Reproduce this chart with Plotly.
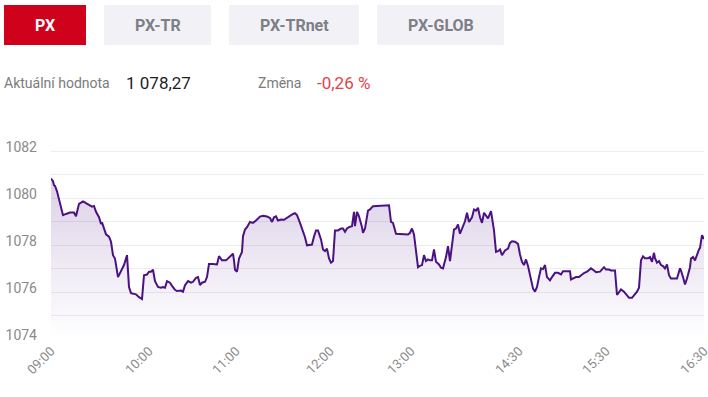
import plotly.graph_objects as go

# ---- data ----
# observation slot (session index) and PX index value
slot = [0, 2, 3, 4, 6, 9, 11, 12, 15, 19, 23, 25, 28, 30, 32, 35, 39, 41, 43, 45,
        48, 50, 51, 53, 55, 58, 60, 62, 64, 67, 70, 73, 76, 78, 80, 83, 85, 88, 91, 93,
        96, 98, 100, 102, 104, 107, 110, 112, 114, 116, 119, 121, 124, 126, 129, 130, 132, 134, 137, 140,
        142, 145, 147, 149, 151, 154, 156, 158, 162, 166, 168, 171, 175, 178, 182, 183, 184, 186, 188, 191,
        192, 194, 196, 199, 202, 205, 209, 212, 216, 219, 221, 223, 225, 227, 230, 233, 236, 238, 242, 244,
        246, 249, 252, 254, 256, 259, 261, 263, 265, 267, 270, 272, 274, 276, 278, 280, 282, 284, 287, 290,
        292, 294, 296, 298, 301, 303, 304, 306, 308, 311, 312, 314, 317, 319, 322, 326, 336, 338, 340, 342,
        345, 349, 354, 357, 359, 361, 363, 367, 369, 371, 373, 375, 377, 379, 381, 383, 385, 388, 390, 392,
        395, 397, 399, 401, 403, 405, 407, 409, 411, 414, 416, 418, 421, 423, 425, 427, 429, 431, 433, 435,
        437, 440, 441, 443, 445, 447, 449, 451, 454, 457, 459, 461, 464, 467, 469, 471, 473, 475, 477, 480,
        482, 484, 486, 488, 490, 492, 494, 496, 499, 501, 504, 507, 510, 512, 515, 519, 520, 523, 525, 528,
        530, 533, 536, 539, 540, 543, 545, 549, 551, 553, 555, 558, 560, 564, 566, 568, 570, 573, 576, 578,
        581, 584, 586, 588, 590, 592, 594, 597, 599, 601, 603, 604, 606, 608, 610, 612, 614, 616, 618, 620,
        624, 626, 629, 630, 632, 634, 636, 639, 640, 642, 644, 646, 648, 649, 651, 653]
value = [1080.83, 1080.72, 1080.55, 1080.52, 1080.29, 1079.80, 1079.38, 1079.28, 1079.33, 1079.39,
         1079.39, 1079.23, 1079.76, 1079.80, 1079.86, 1079.79, 1079.70, 1079.64, 1079.67, 1079.42,
         1079.19, 1078.91, 1078.97, 1078.71, 1078.46, 1078.37, 1078.15, 1077.58, 1077.44, 1076.65,
         1076.88, 1077.16, 1077.58, 1076.23, 1075.97, 1075.94, 1075.92, 1075.80, 1075.72, 1076.73,
         1076.76, 1076.88, 1076.88, 1076.96, 1076.48, 1076.23, 1076.20, 1076.23, 1076.20, 1076.48,
         1076.41, 1076.28, 1076.11, 1076.06, 1076.06, 1076.08, 1076.03, 1076.31, 1076.48, 1076.41,
         1076.45, 1076.62, 1076.65, 1076.31, 1076.41, 1076.45, 1076.65, 1077.21, 1077.21, 1077.19,
         1077.54, 1077.36, 1077.36, 1077.50, 1077.64, 1077.36, 1076.96, 1076.88, 1077.44, 1077.72,
         1078.39, 1078.67, 1078.77, 1078.99, 1078.95, 1079.05, 1079.22, 1079.25, 1079.22, 1079.16,
         1078.99, 1079.19, 1079.23, 1079.05, 1079.09, 1079.08, 1079.16, 1079.25, 1079.33, 1079.36,
         1079.28, 1078.95, 1078.60, 1078.34, 1078.00, 1078.00, 1078.03, 1078.37, 1078.63, 1078.63,
         1078.25, 1077.82, 1077.75, 1077.86, 1077.44, 1077.26, 1077.33, 1078.63, 1078.63, 1078.71,
         1078.71, 1078.57, 1078.71, 1078.77, 1078.81, 1079.42, 1078.81, 1079.42, 1079.23, 1078.77,
         1078.53, 1078.71, 1079.47, 1079.52, 1079.66, 1079.67, 1079.67, 1079.70, 1078.99, 1078.95,
         1078.49, 1078.49, 1078.46, 1078.46, 1078.53, 1078.71, 1078.46, 1077.07, 1077.13, 1077.16,
         1077.58, 1077.33, 1077.40, 1077.36, 1077.36, 1077.82, 1077.30, 1077.19, 1077.05, 1077.02,
         1077.50, 1077.96, 1077.33, 1078.15, 1078.67, 1078.71, 1078.88, 1078.49, 1078.71, 1079.02,
         1079.38, 1078.99, 1079.19, 1079.52, 1079.47, 1079.59, 1079.19, 1078.95, 1079.38, 1079.28,
         1079.14, 1079.45, 1079.14, 1078.63, 1077.72, 1077.75, 1077.82, 1077.58, 1077.78, 1077.86,
         1078.10, 1078.17, 1078.15, 1078.06, 1077.61, 1077.30, 1077.16, 1077.40, 1077.12, 1076.51,
         1076.17, 1076.03, 1076.23, 1076.65, 1077.02, 1076.99, 1077.16, 1076.65, 1076.51, 1076.65,
         1076.83, 1076.83, 1076.76, 1076.90, 1076.90, 1076.90, 1076.55, 1076.62, 1076.65, 1076.65,
         1076.73, 1076.82, 1076.88, 1076.97, 1077.02, 1076.93, 1076.86, 1076.88, 1076.97, 1077.07,
         1076.97, 1076.97, 1076.93, 1076.93, 1075.89, 1076.03, 1076.13, 1076.03, 1075.89, 1075.77,
         1075.77, 1075.92, 1076.03, 1076.20, 1077.36, 1077.53, 1077.45, 1077.45, 1077.50, 1077.30,
         1077.68, 1077.45, 1077.26, 1077.33, 1077.16, 1077.12, 1077.02, 1077.19, 1076.73, 1076.59,
         1076.59, 1076.59, 1077.02, 1076.93, 1076.65, 1076.34, 1076.59, 1077.07, 1077.44, 1077.50,
         1077.36, 1077.64, 1077.82, 1077.89, 1078.43, 1078.27]

tick_slots = [0, 98, 185, 279, 360, 468, 555, 653]
tick_labels = ["09:00", "10:00", "11:00", "12:00", "13:00", "14:30", "15:30", "16:30"]
y_ticks = [1074, 1076, 1078, 1080, 1082]
y_range = [1073.98, 1083.02]

tabs = ["PX", "PX-TR", "PX-TRnet", "PX-GLOB"]
current_label = "Aktuální hodnota"
current_value = "1 078,27"
change_label = "Změna"
change_value = "-0,26 %"

# ---- layout geometry (pixels) ----
W, H = 708, 397
L, R, T, B = 51, 4, 127, 57
PW, PH = W - L - R, H - T - B


def px(xp):
    return (xp - L) / PW


def py(yp):
    return (H - B - yp) / PH


FONT = "Roboto"
fig = go.Figure()

fig.add_trace(go.Scatter(
    x=slot, y=value, mode="lines",
    line=dict(color="#4b1283", width=2),
    fill="tozeroy",
    fillgradient=dict(type="vertical", start=1074, stop=1081,
                      colorscale=[[0, "rgba(75,18,131,0.0)"], [1, "rgba(75,18,131,0.2)"]]),
    hoverinfo="skip", showlegend=False,
))

shapes = []
annotations = []
tab_boxes = [(4, 86), (104, 211), (229, 359), (377, 504)]
for i, (name, (x0, x1)) in enumerate(zip(tabs, tab_boxes)):
    active = i == 0
    shapes.append(dict(type="rect", xref="paper", yref="paper",
                       x0=px(x0), x1=px(x1), y0=py(45), y1=py(5),
                       fillcolor="#d0021b" if active else "#f2f2f6", line=dict(width=0), layer="above"))
    annotations.append(dict(xref="paper", yref="paper", x=px((x0 + x1) / 2), y=py(25),
                            text=f"<b>{name}</b>", showarrow=False, xanchor="center", yanchor="middle",
                            font=dict(family=FONT, size=16, color="#ffffff" if active else "#7c7f87")))

info = [(current_label, 4, 14, "#7b7b7b"), (current_value, 126, 17, "#1e1e1e"),
        (change_label, 258, 14, "#7b7b7b"), (change_value, 317, 17, "#e2434b")]
for text, x0, size, color in info:
    annotations.append(dict(xref="paper", yref="paper", x=px(x0 - 2), y=py(83),
                            text=text, showarrow=False, xanchor="left", yanchor="middle",
                            font=dict(family=FONT, size=size, color=color)))

fig.update_layout(
    width=W, height=H,
    margin=dict(l=L, r=R, t=T, b=B, pad=0),
    paper_bgcolor="white", plot_bgcolor="white",
    font=dict(family=FONT, color="#8a8a8a"),
    shapes=shapes, annotations=annotations,
    xaxis=dict(range=[0, 653], tickvals=tick_slots, ticktext=tick_labels, tickangle=-45,
               showgrid=False, zeroline=False, showline=False, ticks="", automargin=False,
               ticklabeloverflow="allow",
               tickfont=dict(family=FONT, size=13, color="#8a8a8a")),
    yaxis=dict(range=y_range, tickvals=y_ticks, showgrid=True, gridcolor="#ececee", gridwidth=1,
               zeroline=False, showline=False, ticks="", automargin=False,
               ticklabelshift=-4, ticklabelstandoff=13,
               minor=dict(dtick=1, tick0=1074, showgrid=True, gridcolor="#ececee", gridwidth=1),
               tickfont=dict(family=FONT, size=14, color="#8a8a8a")),
)

fig.write_html("out.html", config={"displayModeBar": False},
               post_script="document.body.style.margin='0';")
